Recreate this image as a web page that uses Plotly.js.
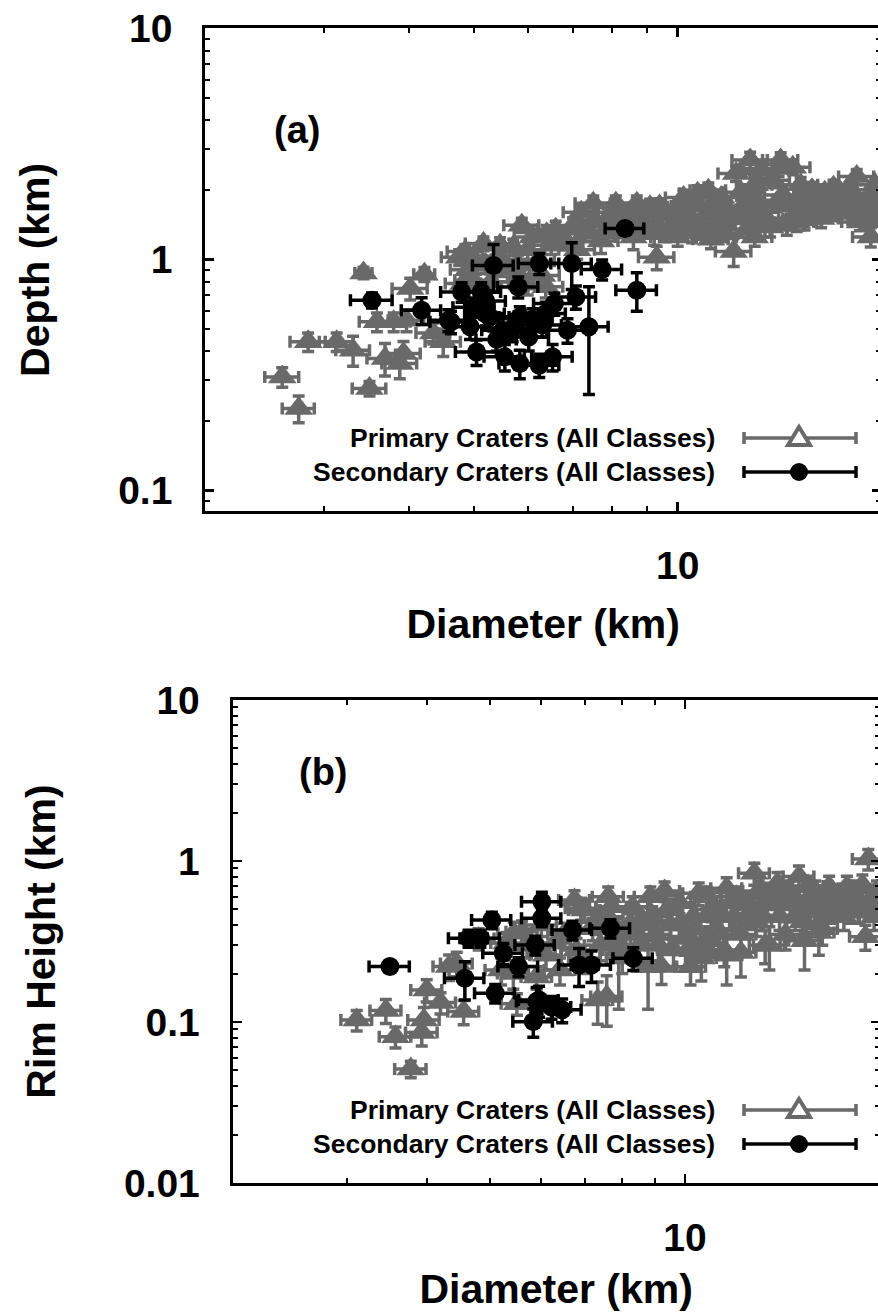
<!DOCTYPE html>
<html><head><meta charset="utf-8">
<script src="https://cdn.plot.ly/plotly-3.0.1.min.js"></script>
<style>html,body{margin:0;padding:0;overflow:hidden;background:#fff;width:878px;height:1316px}</style>
</head><body><div id="chart"></div>
<script>
// ---------------- DATA ----------------
// Panel (a): Depth vs Diameter
const primA_D = [2.60,2.75,2.84,3.13,3.31,3.43,3.50,3.59,3.69,3.80,3.88,3.93,3.97,4.02,4.22,4.35,4.50,4.75,4.82,4.85,4.90,4.98,5.16,5.30,5.46,5.60,5.71,5.80,5.88,6.00,6.30,6.38,
 5.0,5.2,5.5,5.7,6.0,6.1,6.2,6.4,6.5,6.6,6.8,7.0,7.1,7.3,7.5,7.5,7.7,7.9,8.1,8.2,8.4,8.6,8.7,8.9,9.1,9.23,9.31,9.5,9.8,10.0,10.0,10.2,10.3,10.5,10.7,11.0,11.1,11.2,11.4,11.6,11.8,12.0,12.1,12.2,12.4,12.5,12.8,12.9,13.0,13.0,13.3,13.3,13.7,13.8,14.0,14.1,14.2,14.5,14.8,15.0,15.2,15.4,15.6,15.8,16.0,16.3,16.5,16.8,17.0,17.2,17.5,17.9,18.0,18.4,18.4,18.8,19.0,19.0,19.3,19.5,19.6,19.8,
 7.2,7.8,8.0,8.3,8.8,9.0,9.4,9.6,10.1,10.4,10.9,11.3,11.7,12.3,12.7,13.1,13.5,14.3,14.7,15.3,15.9,16.6,17.4,18.2,18.6,19.2];
const primA_H = [0.309,0.226,0.439,0.439,0.404,0.873,0.276,0.536,0.372,0.536,0.354,0.391,0.545,0.747,0.862,0.48,0.439,1.02,0.785,1.08,0.90,0.812,1.17,0.80,1.15,0.88,1.13,0.95,1.405,0.78,0.85,0.76,
 1.00,0.95,1.00,0.90,1.10,1.25,0.98,1.29,1.15,1.35,1.22,1.40,1.10,1.30,1.75,1.45,1.20,1.50,1.75,1.35,1.55,1.25,1.75,1.45,1.69,1.29,1.02,1.55,1.40,1.60,1.25,1.85,1.45,1.30,1.93,1.55,1.99,1.22,1.40,1.85,1.65,1.50,1.08,2.35,1.95,1.70,2.69,1.45,2.10,1.25,2.43,1.60,1.38,2.20,1.75,2.47,2.69,1.40,2.50,1.45,2.10,1.48,1.65,2.00,1.75,1.50,1.95,1.85,2.05,1.60,1.86,1.70,2.00,2.28,1.58,1.75,1.69,1.48,1.25,1.90,2.10,1.60,
 1.60,1.30,1.60,1.45,1.60,1.35,1.70,1.30,1.50,1.70,1.40,1.75,1.30,1.55,1.35,1.80,1.50,1.90,1.70,1.85,1.55,1.70,1.95,1.85,1.45,1.80];
const primA_eD = [0.15,0.15,0.17,0.18,0.19,0.10,0.20,0.21,0.22,0.22,0.23,0.23,0.24,0.24,0.15,0.25,0.27,0.28,0.29,0.29,0.29,0.30,0.31,0.32,0.33,0.33,0.34,0.35,0.35,0.36,0.38,0.38,
 0.30,0.31,0.33,0.34,0.36,0.37,0.37,0.38,0.39,0.40,0.41,0.42,0.43,0.44,0.45,0.45,0.46,0.47,0.49,0.49,0.50,0.52,0.52,0.53,0.55,0.55,0.56,0.57,0.59,0.60,0.60,0.61,0.62,0.63,0.64,0.66,0.67,0.67,0.68,0.70,0.71,0.72,0.73,0.73,0.74,0.75,0.77,0.77,0.78,0.78,0.80,0.80,0.82,0.83,0.84,0.85,0.85,0.87,0.89,0.90,0.91,0.92,0.94,0.95,0.96,0.98,0.99,1.01,1.02,1.03,1.05,1.07,1.08,1.10,1.10,1.13,1.14,1.14,1.16,1.17,1.18,1.19,
 0.43,0.47,0.48,0.50,0.53,0.54,0.56,0.58,0.61,0.62,0.65,0.68,0.70,0.74,0.76,0.79,0.81,0.86,0.88,0.92,0.95,1.00,1.04,1.09,1.12,1.15];
const primA_eH = [0.03,0.03,0.04,0.04,0.06,0.05,0.02,0.05,0.06,0.05,0.05,0.05,0.06,0.08,0.06,0.05,0.06,0.08,0.08,0.08,0.08,0.08,0.08,0.08,0.09,0.08,0.09,0.09,0.10,0.08,0.08,0.08,
 0.09,0.08,0.09,0.08,0.10,0.10,0.09,0.11,0.10,0.11,0.10,0.11,0.10,0.11,0.13,0.12,0.14,0.12,0.13,0.11,0.12,0.15,0.13,0.12,0.13,0.14,0.12,0.12,0.12,0.13,0.11,0.14,0.12,0.12,0.15,0.13,0.15,0.11,0.12,0.14,0.13,0.12,0.15,0.18,0.15,0.13,0.22,0.14,0.16,0.11,0.18,0.13,0.13,0.16,0.14,0.18,0.20,0.13,0.18,0.13,0.16,0.14,0.13,0.15,0.14,0.13,0.15,0.14,0.15,0.13,0.14,0.13,0.15,0.17,0.14,0.14,0.13,0.13,0.12,0.14,0.15,0.14,
 0.12,0.11,0.12,0.12,0.13,0.11,0.13,0.11,0.12,0.13,0.12,0.14,0.11,0.12,0.11,0.14,0.12,0.15,0.13,0.14,0.12,0.13,0.15,0.14,0.12,0.14];

const secA_D = [3.53,4.18,4.58,4.62,4.79,4.93,5.04,5.12,5.19,5.27,5.34,5.51,5.55,5.81,5.84,5.84,6.02,6.24,6.24,6.38,6.53,6.57,6.87,6.97,7.07,7.39,7.73,8.36,8.70,5.00,5.40,5.70,6.10,5.20,6.30];
const secA_H = [0.665,0.602,0.545,0.536,0.722,0.51,0.397,0.722,0.582,0.563,0.94,0.493,0.378,0.759,0.563,0.354,0.461,0.959,0.348,0.582,0.378,0.643,0.493,0.959,0.687,0.51,0.903,1.36,0.735,0.62,0.45,0.50,0.55,0.66,0.52];
const secA_eD = [0.25,0.28,0.30,0.32,0.33,0.33,0.35,0.35,0.35,0.36,0.37,0.38,0.38,0.40,0.40,0.40,0.42,0.43,0.43,0.44,0.45,0.45,0.47,0.48,0.49,0.50,0.53,0.55,0.60,0.35,0.37,0.39,0.42,0.36,0.43];
const secA_eH = [0.05,0.08,0.06,0.06,0.07,0.06,0.05,0.07,0.07,0.06,0.22,0.06,0.05,0.08,0.06,0.05,0.06,0.10,0.04,0.07,0.05,0.07,0.06,0.22,0.08,0.25,0.09,0.08,0.14,0.06,0.05,0.06,0.06,0.07,0.06];

// Panel (b): Rim height vs Diameter
const primB_D = [3.11,3.45,3.57,3.77,3.92,3.95,3.99,4.19,4.44,4.55,4.32,4.80,5.20,5.30,5.44,5.43,5.50,5.60,5.70,5.90,6.00,6.10,6.30,6.41,
 6.5,6.75,6.8,6.91,7.0,7.0,7.2,7.33,7.4,7.57,7.61,7.6,7.8,7.9,8.0,8.2,8.3,8.5,8.77,8.84,8.9,9.0,9.2,9.3,9.4,9.6,9.8,9.8,10.0,10.1,10.2,10.3,10.5,10.6,10.7,10.8,11.0,11.2,11.5,11.6,11.6,11.9,12.0,12.2,12.2,12.5,12.8,12.9,13.0,13.3,13.5,13.5,13.9,14.0,14.3,14.5,14.6,15.0,15.2,15.3,15.5,15.6,16.0,16.1,16.3,16.5,16.7,17.2,17.5,17.8,18.0,18.3,18.8,19.0,19.2,19.5,19.8,
 7.3,7.7,8.1,8.6,9.1,9.5,10.4,10.9,11.4,11.8,12.4,12.7,13.2,13.8,14.2,14.8,15.4,15.9,16.4,16.9,17.6,18.1,18.6,19.3,19.6];
const primB_H = [0.103,0.118,0.081,0.051,0.086,0.103,0.158,0.132,0.231,0.116,0.221,0.33,0.210,0.31,0.356,0.200,0.130,0.364,0.30,0.19,0.40,0.26,0.31,0.210,
 0.35,0.573,0.28,0.508,0.496,0.25,0.38,0.137,0.30,0.144,0.60,0.45,0.33,0.28,0.25,0.40,0.52,0.30,0.22,0.60,0.45,0.35,0.221,0.65,0.50,0.28,0.40,0.55,0.33,0.28,0.22,0.45,0.63,0.25,0.30,0.60,0.50,0.38,0.28,0.677,0.26,0.45,0.60,0.35,0.27,0.55,0.838,0.42,0.65,0.30,0.60,0.30,0.727,0.45,0.35,0.65,0.55,0.80,0.42,0.32,0.70,0.60,0.50,0.36,0.38,0.60,0.693,0.55,0.62,0.693,0.50,0.60,0.709,0.339,1.03,0.60,0.65,
 0.42,0.52,0.35,0.40,0.30,0.40,0.38,0.33,0.45,0.55,0.40,0.50,0.45,0.55,0.60,0.45,0.50,0.65,0.45,0.50,0.45,0.65,0.50,0.55,0.45];
const primB_eD = [0.17,0.19,0.20,0.21,0.22,0.22,0.22,0.23,0.25,0.25,0.24,0.27,0.29,0.29,0.30,0.30,0.30,0.31,0.31,0.32,0.33,0.34,0.35,0.35,
 0.36,0.37,0.37,0.38,0.39,0.39,0.40,0.40,0.41,0.42,0.42,0.42,0.43,0.43,0.44,0.45,0.46,0.47,0.48,0.49,0.49,0.50,0.51,0.51,0.52,0.53,0.54,0.54,0.55,0.56,0.56,0.57,0.58,0.58,0.59,0.59,0.60,0.62,0.63,0.64,0.64,0.65,0.66,0.67,0.67,0.69,0.70,0.71,0.72,0.73,0.74,0.74,0.76,0.77,0.79,0.80,0.80,0.82,0.84,0.84,0.85,0.86,0.88,0.89,0.90,0.91,0.92,0.95,0.96,0.98,0.99,1.01,1.03,1.04,1.06,1.07,1.09,
 0.40,0.42,0.45,0.47,0.50,0.52,0.57,0.60,0.63,0.65,0.68,0.70,0.73,0.76,0.78,0.81,0.85,0.87,0.90,0.93,0.97,1.00,1.02,1.06,1.08];
const primB_eH = [0.015,0.02,0.012,0.006,0.015,0.02,0.025,0.02,0.04,0.02,0.04,0.05,0.04,0.05,0.06,0.04,0.02,0.06,0.05,0.03,0.06,0.05,0.05,0.04,
 0.06,0.08,0.05,0.08,0.08,0.05,0.06,0.04,0.06,0.05,0.09,0.07,0.06,0.16,0.05,0.07,0.08,0.06,0.10,0.09,0.07,0.06,0.05,0.09,0.08,0.06,0.07,0.08,0.07,0.07,0.05,0.08,0.10,0.07,0.06,0.09,0.08,0.07,0.06,0.11,0.09,0.08,0.09,0.07,0.08,0.09,0.13,0.08,0.10,0.07,0.10,0.09,0.12,0.08,0.07,0.10,0.09,0.13,0.08,0.11,0.10,0.10,0.09,0.10,0.08,0.10,0.11,0.09,0.10,0.11,0.09,0.10,0.11,0.06,0.15,0.10,0.10,
 0.07,0.08,0.06,0.07,0.06,0.07,0.07,0.06,0.08,0.09,0.07,0.08,0.08,0.09,0.10,0.08,0.09,0.10,0.08,0.09,0.08,0.10,0.09,0.09,0.08];

const secB_D = [3.50,4.57,4.63,4.83,5.03,5.09,5.24,5.53,5.83,5.87,5.90,5.95,6.01,6.01,6.22,6.46,6.70,6.86,7.17,7.67,8.32];
const secB_H = [0.221,0.187,0.331,0.331,0.430,0.151,0.267,0.221,0.1005,0.301,0.134,0.137,0.559,0.441,0.124,0.119,0.373,0.226,0.226,0.382,0.249];
const secB_eD = [0.25,0.32,0.32,0.34,0.35,0.36,0.37,0.39,0.41,0.41,0.41,0.42,0.42,0.42,0.44,0.45,0.47,0.48,0.50,0.54,0.58];
const secB_eH = [0.015,0.05,0.04,0.04,0.05,0.02,0.04,0.03,0.02,0.04,0.03,0.03,0.08,0.05,0.02,0.02,0.05,0.06,0.05,0.05,0.04];

const xRange = [2, 20];
const yRangeA = [0.081, 10];
const yRangeB = [0.01, 10];
const xTickVals = [10], xTickText = ['10'];
const yTickValsA = [0.1, 1, 10], yTickTextA = ['0.1', '1', '10'];
const yTickValsB = [0.01, 0.1, 1, 10], yTickTextB = ['0.01', '0.1', '1', '10'];
const seriesNames = ['Primary Craters (All Classes)', 'Secondary Craters (All Classes)'];

// ---------------- STYLE / LAYOUT ----------------
const W = 890, H = 1316;
const FONT = 'Liberation Sans, Arial, Helvetica, sans-serif';
const GRAY = '#696969';
const px = x => x / W, py = y => (H - y) / H;
const L = Math.log10;

function primTrace(x, y, ex, ey, xa, ya) {
  return {type:'scatter', mode:'markers', x, y, xaxis:xa, yaxis:ya, name:seriesNames[0],
    marker:{symbol:'triangle-up', size:25, color:GRAY, line:{width:0}},
    error_x:{type:'data', array:ex, color:GRAY, thickness:3.5, width:6},
    error_y:{type:'data', array:ey, color:GRAY, thickness:3.5, width:6}};
}
function secTrace(x, y, ex, ey, xa, ya) {
  return {type:'scatter', mode:'markers', x, y, xaxis:xa, yaxis:ya, name:seriesNames[1],
    marker:{symbol:'circle', size:19, color:'#000', line:{width:0}},
    error_x:{type:'data', array:ex, color:'#000', thickness:3.5, width:6},
    error_y:{type:'data', array:ey, color:'#000', thickness:3.5, width:6}};
}
const traces = [
  primTrace(primA_D, primA_H, primA_eD, primA_eH, 'x', 'y'),
  secTrace(secA_D, secA_H, secA_eD, secA_eH, 'x', 'y'),
  primTrace(primB_D, primB_H, primB_eD, primB_eH, 'x2', 'y2'),
  secTrace(secB_D, secB_H, secB_eD, secB_eH, 'x2', 'y2')
];

const tickFont = {family:FONT, size:39, color:'#000', weight:700};
const titleFont = {family:FONT, size:41, color:'#000', weight:700};
const axBase = {type:'log', showline:true, linewidth:3, linecolor:'#000', mirror:'allticks',
  ticks:'inside', ticklen:9, tickwidth:2.5, tickcolor:'#000', showgrid:false, zeroline:false,
  tickfont:tickFont, tickmode:'array',
  minor:{ticks:'inside', ticklen:5, tickwidth:2, tickcolor:'#000', dtick:'D1', showgrid:false}};

function xAxis(domain, anchor, standoff) {
  return Object.assign({}, axBase, {domain, anchor, range:[L(xRange[0]), L(xRange[1])],
    tickvals:xTickVals, ticktext:xTickText, ticklabelstandoff:18,
    title:{text:'Diameter (km)', font:titleFont, standoff}});
}
function yAxis(domain, anchor, rng, tv, tt, title) {
  return Object.assign({}, axBase, {domain, anchor, range:[L(rng[0]), L(rng[1])],
    tickvals:tv, ticktext:tt, ticklabelstandoff:22,
    title:{text:title, font:titleFont, standoff:56}});
}

// legend drawn as shapes + annotations
const shapes = [], annotations = [];
function legendRow(yc, color, kind) {
  const x0 = 744, x1 = 856, xm = 799;
  shapes.push({type:'line', xref:'paper', yref:'paper', x0:px(x0), x1:px(x1), y0:py(yc), y1:py(yc), line:{color, width:3.5}});
  shapes.push({type:'line', xref:'paper', yref:'paper', x0:px(x0), x1:px(x0), y0:py(yc-6), y1:py(yc+6), line:{color, width:3.5}});
  shapes.push({type:'line', xref:'paper', yref:'paper', x0:px(x1), x1:px(x1), y0:py(yc-6), y1:py(yc+6), line:{color, width:3.5}});
  if (kind === 'tri') {
    const p = `M${px(xm)},${py(yc-11)} L${px(xm-11)},${py(yc+7)} L${px(xm+11)},${py(yc+7)} Z`;
    shapes.push({type:'path', xref:'paper', yref:'paper', path:p, fillcolor:'#fff', line:{color, width:4}});
  } else {
    shapes.push({type:'circle', xref:'paper', yref:'paper', x0:px(xm-9), x1:px(xm+9), y0:py(yc-9), y1:py(yc+9), fillcolor:color, line:{color, width:0}});
  }
}
function legendText(yc, text) {
  annotations.push({xref:'paper', yref:'paper', x:px(717), y:py(yc), xanchor:'right', yanchor:'middle',
    text, showarrow:false, font:{family:FONT, size:26.5, color:'#000', weight:700}});
}
[[438,472],[1110,1144]].forEach(([a,b]) => {
  legendRow(a, GRAY, 'tri'); legendRow(b, '#000', 'circ');
  legendText(a, seriesNames[0]); legendText(b, seriesNames[1]);
});
annotations.push({xref:'paper', yref:'paper', x:px(297), y:py(130), xanchor:'center', yanchor:'middle', text:'(a)', showarrow:false, font:{family:FONT, size:38, color:'#000', weight:700}});
annotations.push({xref:'paper', yref:'paper', x:px(323), y:py(772), xanchor:'center', yanchor:'middle', text:'(b)', showarrow:false, font:{family:FONT, size:38, color:'#000', weight:700}});

const layout = {
  width:W, height:H, margin:{l:0, r:0, t:0, b:0}, paper_bgcolor:'#fff', plot_bgcolor:'#fff', showlegend:false,
  xaxis: xAxis([px(205.2), px(881.2)], 'y', 24),
  yaxis: yAxis([py(511.4), py(28.3)], 'x', yRangeA, yTickValsA, yTickTextA, 'Depth (km)'),
  xaxis2: xAxis([px(232.6), px(879.8)], 'y2', 17),
  yaxis2: yAxis([py(1183), py(700)], 'x2', yRangeB, yTickValsB, yTickTextB, 'Rim Height (km)'),
  shapes, annotations
};
Plotly.newPlot('chart', traces, layout, {staticPlot:true, displayModeBar:false});
</script></body></html>
